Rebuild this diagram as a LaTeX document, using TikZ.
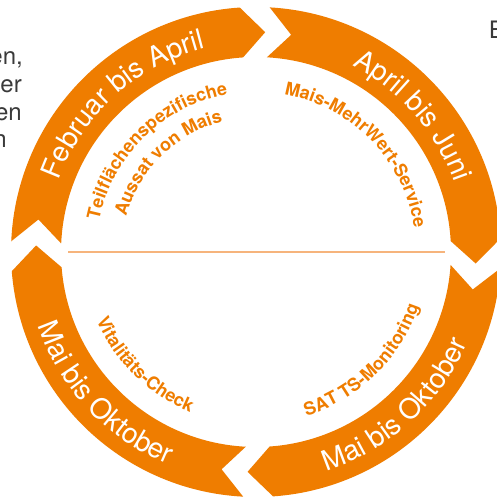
\documentclass[tikz,border=0pt]{standalone}
\usepackage{fontspec}
\setmainfont{TeX Gyre Heros}
\usetikzlibrary{decorations.text}
\definecolor{orng}{HTML}{EF7D00}
\definecolor{lightorng}{HTML}{F6B47C}
\definecolor{bodygray}{HTML}{3A3A3A}
\newcommand{\ringseg}[2]{%
  \pgfmathsetmacro{\tA}{#1-7}%
  \pgfmathsetmacro{\tN}{#1-13}%
  \pgfmathsetmacro{\hT}{#2-6.2}%
  \fill[orng] (\tA:245bp) arc[start angle=\tA, end angle=#2, radius=245bp]
    -- (\hT:220bp) -- (#2:195bp)
    arc[start angle=#2, end angle=\tA, radius=195bp]
    -- (\tN:220bp) -- cycle;
}
\newcommand{\outfont}{\fontsize{28bp}{30bp}\selectfont}
\newcommand{\infont}{\fontsize{18bp}{20bp}\selectfont\bfseries}
\tikzset{
  outtext/.style={decorate, decoration={text along path, text align=center,
    text color=white, text={|\outfont|#1}}},
  intext/.style={decorate, decoration={text along path, text align=center,
    text color=orng, text={|\infont|#1}}},
  graytext/.style={text=bodygray, font=\fontsize{24bp}{28bp}\selectfont, inner sep=0pt},
}
\begin{document}
\begin{tikzpicture}[x=1bp,y=1bp]
\useasboundingbox (0,0) rectangle (497,500);
\clip (0,0) rectangle (497,500);
\fill[white] (0,0) rectangle (497,500);
% body text fragments
\node[graytext, anchor=base east] (g1) at (23,435) {en,};
\node[graytext, anchor=base east] (g2) at (22,407) {er};
\node[graytext, anchor=base east] (g3) at (22,379) {en};
\node[graytext, anchor=base east] (g4) at (7,352) {n};
\node[graytext, anchor=base west] (g5) at (489,461) {B};
\begin{scope}[shift={(256,248)}]
  \ringseg{184.5}{93.8}
  \ringseg{93.8}{3.2}
  \ringseg{3.2}{-86}
  \ringseg{-86}{-175.5}
  \coordinate (lineL) at (-188,0);
  \coordinate (lineR) at (189,0);
  \draw[lightorng, line width=1.3bp] (lineL) -- (lineR);
  % outer ring labels
  \begin{scope}
  \outfont
  \path[outtext={Februar bis April}] (172:210bp) arc[start angle=172, end angle=92, radius=210bp];
  \path[outtext={April bis Juni}] (81:210bp) arc[start angle=81, end angle=1, radius=210bp];
  \path[outtext={Mai bis Oktober}] (-87.8:230bp) arc[start angle=-87.8, end angle=-7.8, radius=230bp];
  \path[outtext={Mai bis Oktober}] (183.1:230bp) arc[start angle=183.1, end angle=263.1, radius=230bp];
  \end{scope}
  % inner labels
  \begin{scope}
  \infont
  \path[intext={Teilflächenspezifische}] (179.3:160bp) arc[start angle=179.3, end angle=89.3, radius=160bp];
  \path[intext={Aussat von Mais}] (179.5:134.5bp) arc[start angle=179.5, end angle=89.5, radius=134.5bp];
  \path[intext={Mais-MehrWert-Service}] (89.3:160bp) arc[start angle=89.3, end angle=-0.7, radius=160bp];
  \path[intext={SAT TS-Monitoring}] (-90.7:171.5bp) arc[start angle=-90.7, end angle=-0.7, radius=171.5bp];
  \path[intext={Vitalitäts-Check}] (180.4:173.5bp) arc[start angle=180.4, end angle=270.4, radius=173.5bp];
  \end{scope}
\end{scope}
\end{tikzpicture}
\end{document}
